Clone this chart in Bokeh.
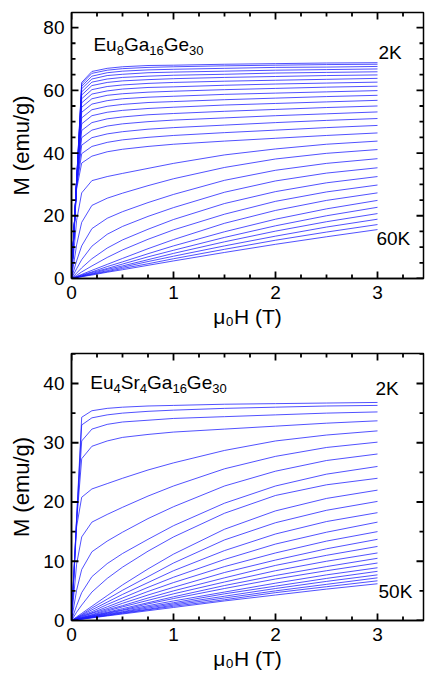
from bokeh.plotting import figure
from bokeh.models import Range1d, LinearAxis, SingleIntervalTicker, Label
from bokeh.layouts import column
from bokeh.embed import file_html
from bokeh.resources import INLINE

# ---------------- data ----------------
field = [0, 0.05, 0.1, 0.2, 0.35, 0.5, 0.75, 1.0, 1.5, 2.0, 2.5, 3.0]

top_temps = list(range(2, 62, 2))  # 2K ... 60K
top_M = [
    [0, 31.2, 62.5, 66.0, 67.0, 67.5, 67.9, 68.0, 68.3, 68.5, 68.7, 68.8],
    [0, 31.1, 62.0, 65.4, 66.4, 66.9, 67.3, 67.5, 67.8, 68.0, 68.2, 68.3],
    [0, 31.0, 61.3, 64.5, 65.6, 66.1, 66.5, 66.7, 67.0, 67.3, 67.4, 67.6],
    [0, 31.0, 60.5, 63.6, 64.7, 65.1, 65.6, 65.8, 66.1, 66.4, 66.6, 66.8],
    [0, 30.9, 59.5, 62.6, 63.6, 64.1, 64.5, 64.8, 65.1, 65.5, 65.7, 65.9],
    [0, 30.9, 58.5, 61.5, 62.5, 63.0, 63.4, 63.7, 64.1, 64.4, 64.7, 64.9],
    [0, 30.8, 57.3, 60.2, 61.2, 61.7, 62.2, 62.5, 62.9, 63.2, 63.5, 63.8],
    [0, 30.8, 56.0, 58.8, 59.8, 60.4, 60.9, 61.1, 61.6, 62.0, 62.3, 62.6],
    [0, 30.7, 54.6, 57.3, 58.4, 58.9, 59.4, 59.7, 60.2, 60.6, 61.0, 61.3],
    [0, 30.6, 53.0, 55.6, 56.7, 57.3, 57.8, 58.1, 58.7, 59.1, 59.5, 59.9],
    [0, 30.5, 51.2, 53.8, 54.9, 55.5, 56.1, 56.4, 57.0, 57.5, 58.0, 58.4],
    [0, 30.4, 49.3, 51.9, 53.0, 53.6, 54.2, 54.6, 55.3, 55.8, 56.3, 56.8],
    [0, 30.2, 47.2, 49.7, 50.9, 51.5, 52.2, 52.6, 53.3, 53.9, 54.5, 55.0],
    [0, 30.0, 44.9, 47.3, 48.6, 49.3, 50.0, 50.5, 51.2, 51.9, 52.5, 53.1],
    [0, 29.7, 42.5, 44.9, 46.1, 46.8, 47.6, 48.1, 48.9, 49.7, 50.4, 51.0],
    [0, 29.3, 39.8, 42.1, 43.4, 44.2, 45.0, 45.6, 46.5, 47.3, 48.1, 48.8],
    [0, 28.5, 36.8, 39.0, 40.4, 41.2, 42.1, 42.8, 43.8, 44.7, 45.6, 46.4],
    [0, 18.5, 27.3, 31.2, 32.5, 33.5, 35.1, 36.7, 39.4, 41.3, 42.8, 43.8],
    [0, 10.7, 17.9, 23.3, 25.6, 27.2, 29.6, 31.8, 35.4, 38.1, 39.9, 41.1],
    [0, 5.6, 10.4, 15.9, 19.2, 21.3, 24.2, 26.8, 31.3, 34.5, 36.7, 38.2],
    [0, 3.1, 6.0, 10.3, 14.1, 16.6, 19.8, 22.6, 27.5, 31.1, 33.6, 35.3],
    [0, 1.7, 3.4, 6.3, 9.7, 12.3, 15.7, 18.8, 23.9, 27.7, 30.5, 32.5],
    [0, 1.0, 2.1, 4.0, 6.7, 9.1, 12.5, 15.5, 20.5, 24.6, 27.6, 29.8],
    [0, 0.65, 1.3, 2.6, 4.5, 6.4, 9.5, 12.4, 17.6, 21.7, 24.9, 27.3],
    [0, 0.5, 1.1, 2.1, 3.8, 5.3, 7.9, 10.4, 14.9, 18.9, 22.2, 24.9],
    [0, 0.5, 0.9, 1.9, 3.2, 4.6, 6.9, 9.0, 13.1, 16.8, 20.0, 22.7],
    [0, 0.4, 0.8, 1.6, 2.9, 4.0, 6.0, 8.0, 11.7, 15.1, 18.1, 20.7],
    [0, 0.4, 0.7, 1.4, 2.5, 3.6, 5.4, 7.1, 10.4, 13.5, 16.4, 18.9],
    [0, 0.3, 0.6, 1.3, 2.2, 3.2, 4.7, 6.3, 9.3, 12.2, 14.8, 17.2],
    [0, 0.3, 0.6, 1.1, 2.0, 2.8, 4.2, 5.6, 8.3, 10.9, 13.3, 15.6],
]

bot_temps = list(range(2, 52, 2))  # 2K ... 50K
bot_M = [
    [0, 17.2, 34.3, 35.4, 35.8, 36.0, 36.2, 36.3, 36.5, 36.6, 36.7, 36.8],
    [0, 17.0, 33.0, 34.2, 34.7, 35.0, 35.3, 35.5, 35.8, 36.0, 36.2, 36.3],
    [0, 16.9, 30.3, 32.3, 33.1, 33.5, 33.8, 34.1, 34.4, 34.7, 35.0, 35.2],
    [0, 16.6, 27.3, 29.4, 30.3, 30.9, 31.4, 31.8, 32.3, 32.8, 33.3, 33.7],
    [0, 15.8, 20.8, 22.2, 23.1, 24.0, 25.4, 26.6, 28.7, 30.3, 31.3, 32.0],
    [0, 9.5, 14.1, 16.6, 17.9, 19.1, 21.0, 22.7, 25.6, 27.7, 29.2, 30.1],
    [0, 5.1, 8.6, 11.6, 13.4, 14.9, 17.2, 19.2, 22.7, 25.2, 27.0, 28.1],
    [0, 2.5, 4.7, 7.4, 9.6, 11.3, 13.7, 16.0, 19.8, 22.7, 24.7, 26.0],
    [0, 1.4, 2.6, 4.8, 7.1, 9.0, 11.7, 14.1, 18.1, 21.1, 22.9, 24.0],
    [0, 0.6, 1.2, 2.4, 4.2, 6.0, 8.7, 11.2, 15.4, 18.5, 20.6, 22.0],
    [0, 0.5, 1.0, 2.1, 3.6, 5.1, 7.4, 9.7, 13.6, 16.5, 18.6, 20.1],
    [0, 0.4, 0.9, 1.8, 3.1, 4.4, 6.4, 8.4, 11.8, 14.6, 16.7, 18.2],
    [0, 0.4, 0.8, 1.5, 2.7, 3.8, 5.6, 7.3, 10.3, 12.9, 14.9, 16.6],
    [0, 0.3, 0.7, 1.3, 2.3, 3.3, 4.9, 6.4, 9.1, 11.4, 13.4, 15.0],
    [0, 0.3, 0.6, 1.2, 2.0, 2.9, 4.3, 5.6, 8.1, 10.2, 12.1, 13.7],
    [0, 0.25, 0.5, 1.0, 1.8, 2.5, 3.8, 5.0, 7.2, 9.3, 11.0, 12.5],
    [0, 0.23, 0.46, 0.9, 1.6, 2.3, 3.4, 4.5, 6.5, 8.4, 10.0, 11.4],
    [0, 0.2, 0.41, 0.8, 1.4, 2.0, 3.0, 4.0, 5.9, 7.6, 9.1, 10.5],
    [0, 0.18, 0.37, 0.74, 1.3, 1.8, 2.8, 3.7, 5.4, 7.0, 8.4, 9.7],
    [0, 0.17, 0.33, 0.66, 1.2, 1.7, 2.5, 3.3, 4.8, 6.3, 7.7, 8.9],
    [0, 0.15, 0.31, 0.61, 1.1, 1.5, 2.3, 3.0, 4.5, 5.8, 7.1, 8.3],
    [0, 0.14, 0.28, 0.56, 1.0, 1.4, 2.1, 2.8, 4.1, 5.4, 6.6, 7.7],
    [0, 0.13, 0.26, 0.52, 0.9, 1.3, 1.9, 2.6, 3.8, 5.0, 6.1, 7.2],
    [0, 0.12, 0.24, 0.48, 0.84, 1.2, 1.8, 2.4, 3.5, 4.7, 5.7, 6.7],
    [0, 0.11, 0.22, 0.44, 0.77, 1.1, 1.65, 2.2, 3.3, 4.3, 5.3, 6.2],
]

# text pieces: (text, is_subscript)
top_compound = [("Eu", 0), ("8", 1), ("Ga", 0), ("16", 1), ("Ge", 0), ("30", 1)]
bot_compound = [("Eu", 0), ("4", 1), ("Sr", 0), ("4", 1), ("Ga", 0), ("16", 1),
                ("Ge", 0), ("30", 1)]
x_title = "\u03bc\u2080H (T)"
y_title = "M (emu/g)"

FONT = "Liberation Sans"
LINE_COLOR = "#1a1aff"
TICK_COLOR = "black"
PX_PER_X = 102.0

ADV = {"E": .667, "u": .556, "G": .778, "a": .556, "e": .556, "S": .667,
       "r": .333}


def text_width(s, size):
    return sum(ADV.get(c, .556) for c in s) * size


def rich_text(p, x, y, pieces, big, small, drop):
    off = 0.0
    for txt, sub in pieces:
        size = small if sub else big
        p.add_layout(Label(x=x, y=y, x_offset=off,
                           y_offset=-(drop if sub else 0),
                           text=txt, text_font=FONT,
                           text_font_size=f"{size}px", text_color="black",
                           text_baseline="alphabetic", text_align="left"))
        off += text_width(txt, size)


def style_axis(ax, ticker):
    ax.ticker = ticker
    ax.axis_line_color = "black"
    ax.axis_line_width = 1.5
    ax.major_tick_in = 0
    ax.major_tick_out = 0
    ax.minor_tick_in = 0
    ax.minor_tick_out = 0
    ax.major_label_text_font = FONT
    ax.axis_label_text_font = FONT
    ax.axis_label_text_font_style = "normal"
    ax.axis_label_text_color = "black"
    ax.major_label_text_color = "black"
    ax.major_label_text_font_size = "19px"
    ax.axis_label_text_font_size = "22px"
    ax.major_label_standoff = 7


def make_panel(temps, curves, y_end, y_major, y_minor_step, width, height,
               border_top, border_bottom, compound, comp_xy, hi_label, hi_xy,
               lo_label, lo_xy):
    frame_w = width - 71 - 2
    frame_h = height - border_top - border_bottom
    x_end = frame_w / PX_PER_X
    py = frame_h / y_end
    p = figure(width=width, height=height, output_backend="svg",
               toolbar_location=None, x_range=Range1d(0, x_end),
               y_range=Range1d(0, y_end), x_axis_type=None, y_axis_type=None,
               min_border_left=71, min_border_right=2,
               min_border_top=border_top, min_border_bottom=border_bottom)
    p.grid.visible = False
    p.outline_line_color = "black"
    p.outline_line_width = 1.5
    p.background_fill_color = None
    p.border_fill_color = "white"

    xb = LinearAxis(axis_label=x_title)
    style_axis(xb, SingleIntervalTicker(interval=1, num_minor_ticks=4))
    xb.axis_label_text_font_size = "21px"
    xb.axis_label_standoff = 3
    p.add_layout(xb, "below")
    yl = LinearAxis(axis_label=y_title)
    style_axis(yl, SingleIntervalTicker(interval=y_major))
    yl.axis_label_standoff = 6
    p.add_layout(yl, "left")

    for T, m in zip(temps, curves):
        p.line(field, m, line_color=LINE_COLOR, line_width=0.9, line_alpha=0.85)

    # inward ticks on all four sides
    x_major = [float(v) for v in range(0, 4) if v <= x_end]
    x_minor = [k * 0.25 for k in range(0, 15) if k % 4 and k * 0.25 <= x_end]
    y_major_v = [v for v in range(0, int(y_end) + 1, y_major)]
    y_minor_v = [k * y_minor_step for k in range(0, int(y_end / y_minor_step) + 1)
                 if (k * y_minor_step) % y_major]
    for vals, L in ((x_major, 7), (x_minor, 4)):
        d = L / py
        p.segment(x0=vals, y0=[0] * len(vals), x1=vals, y1=[d] * len(vals),
                  line_color=TICK_COLOR, line_width=1.8)
        p.segment(x0=vals, y0=[y_end] * len(vals), x1=vals,
                  y1=[y_end - d] * len(vals), line_color=TICK_COLOR, line_width=1.8)
    for vals, L in ((y_major_v, 7), (y_minor_v, 4)):
        d = L / PX_PER_X
        p.segment(x0=[0] * len(vals), y0=vals, x1=[d] * len(vals), y1=vals,
                  line_color=TICK_COLOR, line_width=1.8)
        p.segment(x0=[x_end] * len(vals), y0=vals, x1=[x_end - d] * len(vals),
                  y1=vals, line_color=TICK_COLOR, line_width=1.8)

    rich_text(p, comp_xy[0], comp_xy[1], compound, 19, 13, 6)
    p.add_layout(Label(x=hi_xy[0], y=hi_xy[1], text=hi_label, text_font=FONT,
                       text_font_size="19px", text_color="black",
                       text_baseline="middle"))
    p.add_layout(Label(x=lo_xy[0], y=lo_xy[1], text=lo_label, text_font=FONT,
                       text_font_size="19px", text_color="black",
                       text_baseline="middle"))
    return p


W = 425
p1 = make_panel(top_temps, top_M, 84.8, 20, 5, W, 340, 12, 62,
                top_compound, (0.215, 74.7), "2K", (3.01, 72.0), "60K",
                (2.99, 12.7))
p2 = make_panel(bot_temps, bot_M, 45.06, 10, 5, W, 336, 13, 56,
                bot_compound, (0.185, 40.1), "2K", (2.98, 39.2), "50K",
                (3.01, 4.9))

layout = column(p1, p2, spacing=0)
open("out.html", "w").write(file_html(layout, INLINE))
